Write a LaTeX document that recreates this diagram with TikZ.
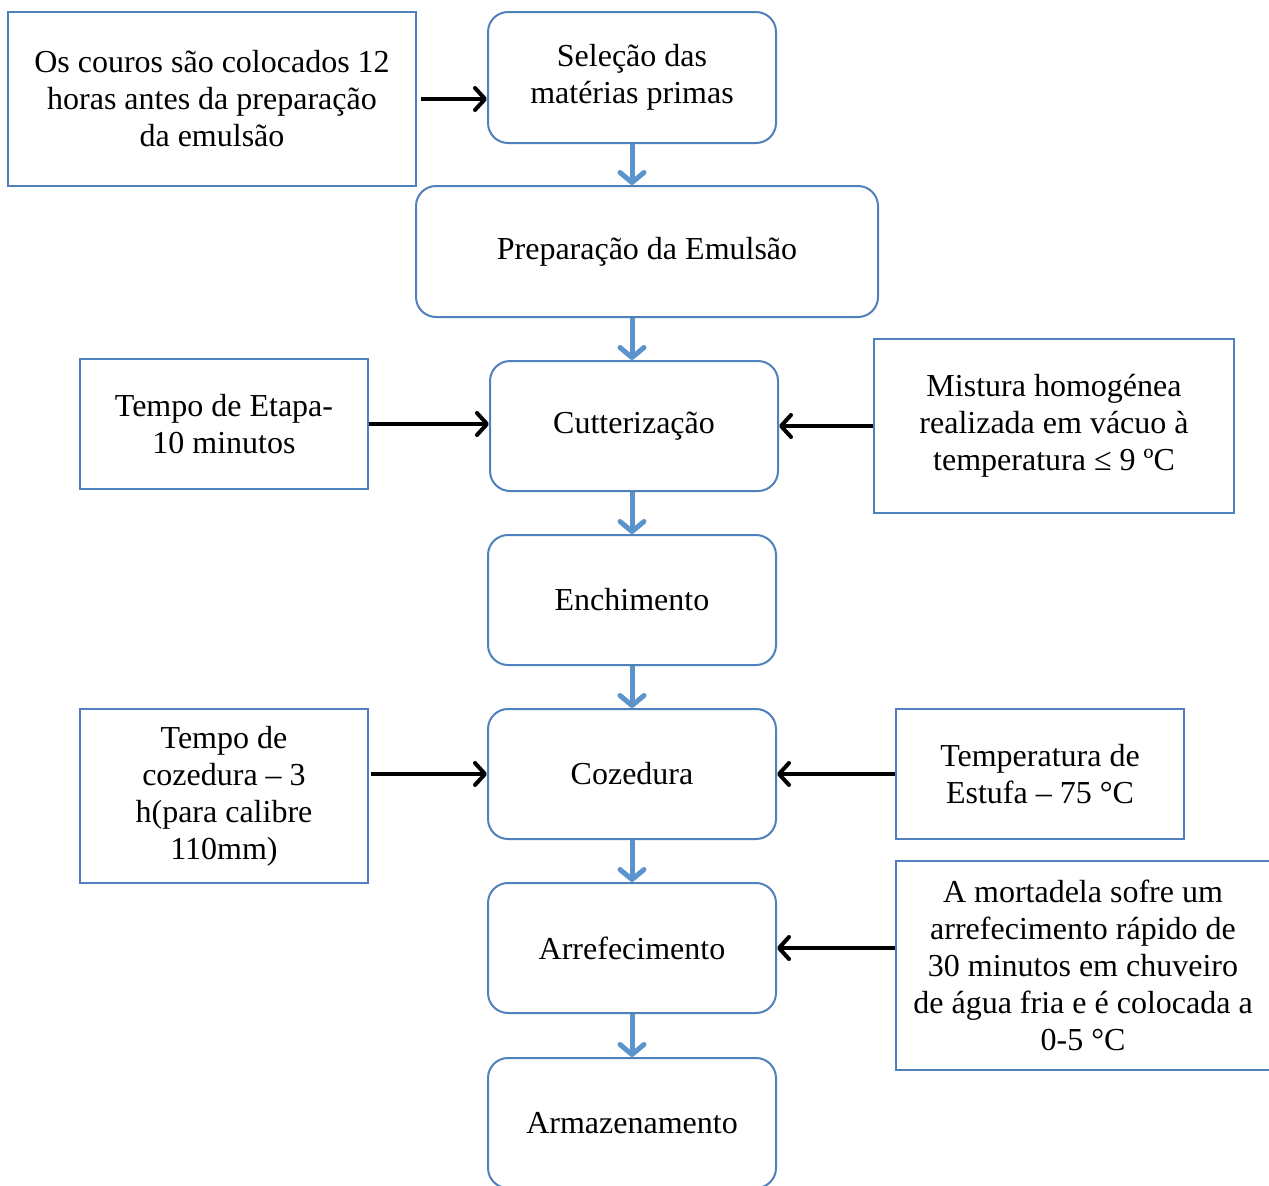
\documentclass[tikz,border=0pt]{standalone}
\usepackage{fontspec}
\setmainfont{Liberation Serif}
\usetikzlibrary{arrows.meta}
\definecolor{boxblue}{RGB}{79,129,189}
\definecolor{arrblue}{RGB}{91,148,204}
\begin{document}
\begin{tikzpicture}[x=1pt,y=-1pt,
  txt/.style={align=center,inner sep=0pt,font=\fontsize{32}{37}\selectfont},
  sqbox/.style={txt,draw=boxblue,line width=1.6pt},
  rbox/.style={txt,draw=boxblue,line width=2pt,rounded corners=20pt},
  flow/.style={draw=arrblue,line width=5pt,-{Straight Barb[length=10pt,width=24pt,round]}},
  side/.style={draw=black,line width=4pt,-{Straight Barb[length=10pt,width=22pt,round]}}]
\useasboundingbox (0,0) rectangle (1269,1186);
\clip (0,0) rectangle (1269,1186);
\fill[white] (0,0) rectangle (1269,1186);

\node[sqbox,minimum width=408pt,minimum height=174pt] (a) at (212,99) {Os couros são colocados 12\\horas antes da preparação\\da emulsão};
\node[rbox,minimum width=288pt,minimum height=131pt] (sel) at (632,77.5) {Seleção das\\matérias primas};
\node[rbox,minimum width=462pt,minimum height=131pt] (prep) at (647,251.5) {Preparação da Emulsão};
\node[sqbox,minimum width=288pt,minimum height=130pt] (te) at (224,424) {Tempo de Etapa-\\10 minutos};
\node[rbox,minimum width=288pt,minimum height=130pt] (cut) at (634,426) {Cutterização};
\node[sqbox,minimum width=360pt,minimum height=174pt] (mis) at (1054,426) {Mistura homogénea\\realizada em vácuo à\\temperatura ≤ 9 ºC};
\node[rbox,minimum width=288pt,minimum height=130pt] (enc) at (632,600) {Enchimento};
\node[sqbox,minimum width=288pt,minimum height=174pt] (tc) at (224,796) {Tempo de\\cozedura – 3\\h(para calibre\\110mm)};
\node[rbox,minimum width=288pt,minimum height=130pt] (coz) at (632,774) {Cozedura};
\node[sqbox,minimum width=288pt,minimum height=130pt] (tem) at (1040,774) {Temperatura de\\Estufa – 75 °C};
\node[rbox,minimum width=288pt,minimum height=130pt] (arr) at (632,948) {Arrefecimento};
\node[sqbox,minimum width=374pt,minimum height=209pt] (mort) at (1083,965.5) {A mortadela sofre um\\arrefecimento rápido de\\30 minutos em chuveiro\\de água fria e é colocada a\\0-5 °C};
\node[rbox,minimum width=288pt,minimum height=130pt] (arm) at (632,1123) {Armazenamento};

\draw[flow] (sel.south) -- (sel.south |- prep.north);
\draw[flow] (prep.south -| sel.south) -- (sel.south |- cut.north);
\draw[flow] (enc.north |- cut.south) -- (enc.north);
\draw[flow] (enc.south) -- (coz.north);
\draw[flow] (coz.south) -- (arr.north);
\draw[flow] (arr.south) -- (arm.north);

\draw[side,shorten <=4pt] (a.east) -- (a.east -| sel.west);
\draw[side] (te.east) -- (te.east -| cut.west);
\draw[side] (mis.west) -- (mis.west -| cut.east);
\draw[side,shorten <=2pt] (tc.east |- coz.west) -- (coz.west);
\draw[side] (tem.west) -- (coz.east);
\draw[side] (mort.west |- arr.east) -- (arr.east);
\end{tikzpicture}
\end{document}
